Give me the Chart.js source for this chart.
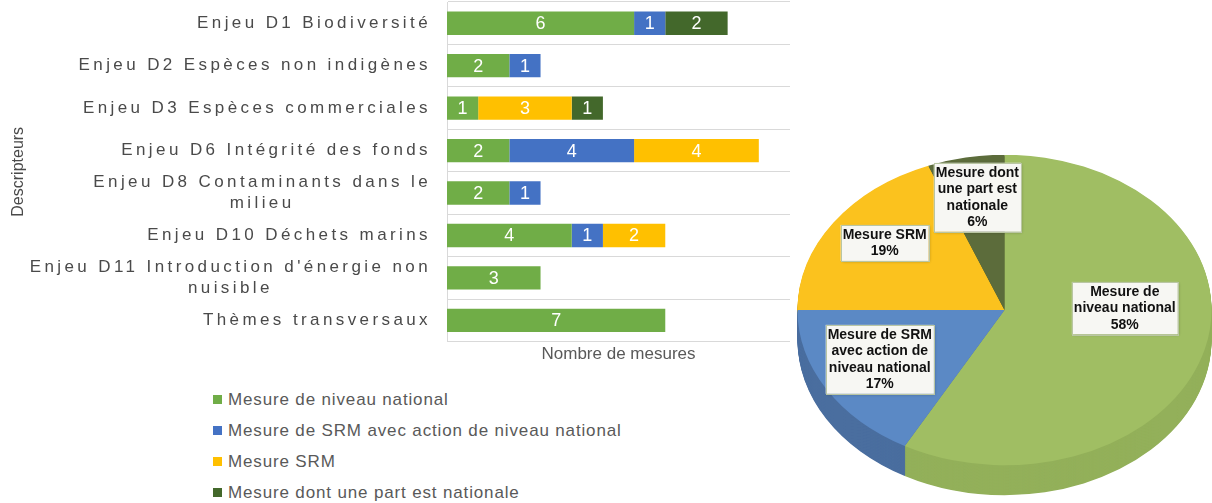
<!DOCTYPE html>
<html>
<head>
<meta charset="utf-8">
<script src="https://cdn.jsdelivr.net/npm/chart.js@4.4.0/dist/chart.umd.min.js"></script>
<style>
  body { margin: 0; background: #fff; width: 1212px; height: 503px; overflow: hidden; position: relative; font-family: "Liberation Sans", Arial, sans-serif; }
  #barBox { position: absolute; left: 0; top: 0; }
  #pieBox { position: absolute; left: 797px; top: 155px; }
  #legend { position: absolute; left: 213px; top: 384px; }
  .item { height: 31px; display: flex; align-items: center; font-size: 17px; color: #595959; letter-spacing: 0.85px; }
  .sw { width: 9px; height: 9px; margin-right: 6px; }
</style>
</head>
<body>
<div id="barBox"><canvas id="barChart" width="800" height="369"></canvas></div>
<div id="legend"></div>
<div id="pieBox"><canvas id="pieChart" width="415" height="348"></canvas></div>
<script>
// categories (descripteurs)
const categories = [
  "Enjeu D1 Biodiversité",
  "Enjeu D2 Espèces non indigènes",
  "Enjeu D3 Espèces commerciales",
  "Enjeu D6 Intégrité des fonds",
  ["Enjeu D8 Contaminants dans le", "milieu"],
  "Enjeu D10 Déchets marins",
  ["Enjeu D11 Introduction d'énergie non", "nuisible"],
  "Thèmes transversaux"
];
const seriesNames = [
  "Mesure de niveau national",
  "Mesure de SRM avec action de niveau national",
  "Mesure SRM",
  "Mesure dont une part est nationale"
];
// nombre de mesures par série
const national     = [6, 2, 1, 2, 2, 4, 3, 7];
const srmNational  = [1, 1, 0, 4, 1, 1, 0, 0];
const srm          = [0, 0, 3, 4, 0, 2, 0, 0];
const partNational = [2, 0, 1, 0, 0, 0, 0, 0];

// camembert (%)
const pieValues = [58, 17, 19, 6];
const pieLabels = [
  ["Mesure de", "niveau national"],
  ["Mesure de SRM", "avec action de", "niveau national"],
  ["Mesure SRM"],
  ["Mesure dont", "une part est", "nationale"]
];

const barColors = ["#70AD47", "#4472C4", "#FFC000", "#43682B"];
const pieColors = ["#A0BE63", "#5B89C5", "#FBC21E", "#5C6C3B"];
const sideColors = ["#93B05A", "#4A6E9F", "#D9A614", "#48562E"];
const FONT = '"Liberation Sans", Arial, sans-serif';

const barText = {
  id: "barText",
  afterDatasetsDraw(chart) {
    const ctx = chart.ctx;
    ctx.save();
    ctx.font = "18px " + FONT;
    ctx.fillStyle = "#fff";
    ctx.textAlign = "center";
    ctx.textBaseline = "middle";
    chart.data.datasets.forEach((ds, i) => {
      chart.getDatasetMeta(i).data.forEach((bar, j) => {
        if (!ds.data[j]) return;
        const p = bar.getCenterPoint();
        ctx.fillText(ds.data[j], p.x, p.y + 1);
      });
    });
    // category labels, spaced out like the original
    const y = chart.scales.y;
    const right = chart.chartArea.left - 16;
    ctx.font = "17px " + FONT;
    ctx.fillStyle = "#4a4a4a";
    ctx.letterSpacing = "3.4px";
    chart.data.labels.forEach((lab, i) => {
      const lines = [].concat(lab);
      const top = y.getPixelForValue(i) - (lines.length - 1) * 21 / 2;
      const w = ctx.measureText(lines[0]).width;
      lines.forEach((t, k) => {
        ctx.textAlign = k == 0 ? "right" : "center";
        ctx.fillText(t, k == 0 ? right : right - w / 2, top + k * 21);
      });
    });
    ctx.restore();
  }
};

const barChart = new Chart(document.getElementById("barChart"), {
  type: "bar",
  data: {
    labels: categories,
    datasets: [national, srmNational, srm, partNational].map((d, i) => ({
      label: seriesNames[i],
      data: d,
      backgroundColor: barColors[i],
      barPercentage: 0.55,
      categoryPercentage: 1
    }))
  },
  options: {
    indexAxis: "y",
    responsive: false,
    animation: false,
    events: [],
    layout: { padding: { right: 10, top: 2 } },
    plugins: { legend: { display: false }, tooltip: { enabled: false } },
    scales: {
      x: {
        stacked: true, min: 0, max: 11,
        ticks: { display: false },
        grid: { display: false, drawTicks: false },
        border: { display: false },
        title: { display: true, text: "Nombre de mesures", color: "#595959", font: { size: 17, family: FONT }, padding: { top: 3, bottom: 4 } }
      },
      y: {
        stacked: true,
        ticks: { display: false },
        grid: { color: "#d9d9d9", offset: true, drawTicks: false },
        border: { color: "#d9d9d9" },
        title: { display: true, text: "Descripteurs", color: "#4a4a4a", font: { size: 16, family: FONT }, padding: { top: 9, bottom: 4 } },
        afterFit(scale) { scale.width = 447; }
      }
    }
  },
  plugins: [barText]
});

// legend built from the datasets
const legend = document.getElementById("legend");
barChart.data.datasets.forEach(ds => {
  const row = document.createElement("div");
  row.className = "item";
  row.innerHTML = '<span class="sw" style="background:' + ds.backgroundColor + '"></span>' + ds.label;
  legend.appendChild(row);
});

// 3D-ish pie: squash into an ellipse and draw a side wall
const K = 0.75, DEPTH = 40;
const pie3d = {
  id: "pie3d",
  beforeDatasetsDraw(chart) {
    const ctx = chart.ctx;
    const arcs = chart.getDatasetMeta(0).data;
    const cx = arcs[0].x, cy = arcs[0].y;
    ctx.save();
    ctx.translate(cx, cy);
    ctx.scale(1, K);
    ctx.translate(-cx, -cy);
    for (let d = DEPTH; d > 0; d--) {
      arcs.forEach((a, i) => {
        ctx.fillStyle = sideColors[i];
        ctx.beginPath();
        ctx.moveTo(a.x, a.y + d);
        ctx.arc(a.x, a.y + d, a.outerRadius, a.startAngle, a.endAngle);
        ctx.closePath();
        ctx.fill();
      });
    }
  },
  afterDatasetsDraw(chart) {
    chart.ctx.restore();
  },
  afterDraw(chart) {
    const ctx = chart.ctx;
    const arcs = chart.getDatasetMeta(0).data;
    const total = pieValues.reduce((s, v) => s + v, 0);
    ctx.save();
    ctx.font = "bold 14px " + FONT;
    ctx.textAlign = "center";
    ctx.textBaseline = "middle";
    arcs.forEach((a, i) => {
      const mid = (a.startAngle + a.endAngle) / 2;
      const f = i == 0 ? 0.6 : 0.7;
      const x = a.x + Math.cos(mid) * a.outerRadius * f;
      const y = a.y + Math.sin(mid) * a.outerRadius * f * K - (i == 0 ? 25 : 6);
      const lines = pieLabels[i].concat([Math.round(pieValues[i] / total * 100) + "%"]);
      const w = Math.max(...lines.map(t => ctx.measureText(t).width)) + 4;
      const h = lines.length * 16.5 + 3;
      ctx.shadowColor = "rgba(0,0,0,0.3)";
      ctx.shadowBlur = 3;
      ctx.shadowOffsetX = 1;
      ctx.shadowOffsetY = 1;
      ctx.fillStyle = "#f7f7f3";
      ctx.fillRect(x - w / 2, y - h / 2, w, h);
      ctx.shadowColor = "transparent";
      ctx.strokeStyle = "#b9c6a3";
      ctx.lineWidth = 1;
      ctx.strokeRect(Math.round(x - w / 2) + 0.5, Math.round(y - h / 2) + 0.5, Math.round(w), Math.round(h));
      ctx.fillStyle = "#111";
      lines.forEach((t, k) => ctx.fillText(t, x, y - h / 2 + 10 + k * 16.5));
    });
    ctx.restore();
  }
};

new Chart(document.getElementById("pieChart"), {
  type: "pie",
  data: {
    labels: seriesNames,
    datasets: [{ data: pieValues, backgroundColor: pieColors, borderWidth: 0, radius: 207, clip: false }]
  },
  options: {
    responsive: false,
    animation: false,
    events: [],
    layout: { padding: { bottom: 38 } },
    plugins: { legend: { display: false }, tooltip: { enabled: false } }
  },
  plugins: [pie3d]
});
</script>
</body>
</html>
